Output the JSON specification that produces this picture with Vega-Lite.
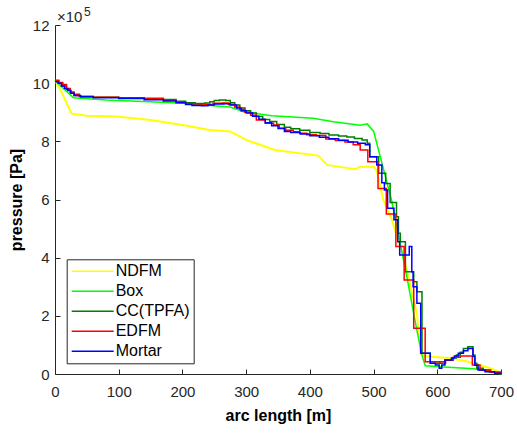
{
  "$schema": "https://vega.github.io/schema/vega-lite/v6.json",
  "width": 446,
  "height": 349,
  "autosize": {"type": "none"},
  "padding": {"left": 55, "top": 25, "right": 16, "bottom": 61},
  "background": "white",
  "config": {
    "view": {"stroke": null},
    "font": "Liberation Sans",
    "axis": {
      "grid": false,
      "domainColor": "#262626",
      "domainWidth": 1,
      "tickColor": "#262626",
      "tickWidth": 1,
      "tickSize": -5,
      "labelFlush": false,
      "labelOverlap": false,
      "labelFont": "Liberation Sans",
      "labelFontSize": 15,
      "labelColor": "#262626",
      "titleFont": "Liberation Sans",
      "titleFontSize": 16,
      "titleFontWeight": "bold",
      "titleColor": "#000000"
    },
    "axisX": {"labelPadding": 15, "titlePadding": 8},
    "axisY": {"labelPadding": 11, "titlePadding": 8},
    "legend": {
      "orient": "none",
      "legendX": 11.7,
      "legendY": 234.3,
      "strokeColor": "#262626",
      "fillColor": "white",
      "padding": 4,
      "symbolType": "M-3,0H3",
      "symbolSize": 196,
      "symbolStrokeWidth": 1.5,
      "symbolOffset": 14,
      "labelOffset": 15,
      "labelFont": "Liberation Sans",
      "labelFontSize": 16,
      "labelColor": "#000000",
      "rowPadding": 4,
      "title": null
    }
  },
  "datasets": {
    "curves": [
      {"s":"NDFM","x":0,"y":10.1},{"s":"NDFM","x":10,"y":9.7},{"s":"NDFM","x":26,"y":8.95},{"s":"NDFM","x":50,"y":8.88},{"s":"NDFM","x":97,"y":8.85},{"s":"NDFM","x":150,"y":8.73},{"s":"NDFM","x":200,"y":8.56},{"s":"NDFM","x":243,"y":8.39},{"s":"NDFM","x":275,"y":8.34},{"s":"NDFM","x":300,"y":8.05},{"s":"NDFM","x":345,"y":7.7},{"s":"NDFM","x":413,"y":7.51},{"s":"NDFM","x":427,"y":7.19},{"s":"NDFM","x":463,"y":7.07},{"s":"NDFM","x":471,"y":7.04},{"s":"NDFM","x":479,"y":7.13},{"s":"NDFM","x":500,"y":7.13},{"s":"NDFM","x":505,"y":7.0},{"s":"NDFM","x":515,"y":6.0},{"s":"NDFM","x":520,"y":5.75},{"s":"NDFM","x":528,"y":5.35},{"s":"NDFM","x":547,"y":4.03},{"s":"NDFM","x":568,"y":2.09},{"s":"NDFM","x":574,"y":0.71},{"s":"NDFM","x":578,"y":0.62},{"s":"NDFM","x":620,"y":0.54},{"s":"NDFM","x":646,"y":0.44},{"s":"NDFM","x":667,"y":0.31},{"s":"NDFM","x":683,"y":0.2},{"s":"NDFM","x":698,"y":0.06},{"s":"NDFM","x":700,"y":0.05},
      {"s":"Box","x":0,"y":10.1},{"s":"Box","x":10,"y":9.88},{"s":"Box","x":20,"y":9.68},{"s":"Box","x":29,"y":9.5},{"s":"Box","x":80,"y":9.42},{"s":"Box","x":149,"y":9.36},{"s":"Box","x":201,"y":9.31},{"s":"Box","x":259,"y":9.21},{"s":"Box","x":275,"y":9.18},{"s":"Box","x":296,"y":9.02},{"s":"Box","x":340,"y":8.88},{"s":"Box","x":405,"y":8.79},{"s":"Box","x":437,"y":8.67},{"s":"Box","x":479,"y":8.55},{"s":"Box","x":490,"y":8.6},{"s":"Box","x":500,"y":8.35},{"s":"Box","x":528,"y":6.0},{"s":"Box","x":550,"y":3.6},{"s":"Box","x":568,"y":1.5},{"s":"Box","x":576,"y":0.65},{"s":"Box","x":581,"y":0.28},{"s":"Box","x":604,"y":0.25},{"s":"Box","x":657,"y":0.18},{"s":"Box","x":683,"y":0.08},{"s":"Box","x":700,"y":0.01},
      {"s":"CC(TPFA)","x":0,"y":10.08},{"s":"CC(TPFA)","x":6,"y":10.0},{"s":"CC(TPFA)","x":12,"y":9.9},{"s":"CC(TPFA)","x":18,"y":9.78},{"s":"CC(TPFA)","x":24,"y":9.66},{"s":"CC(TPFA)","x":30,"y":9.58},{"s":"CC(TPFA)","x":40,"y":9.53},{"s":"CC(TPFA)","x":60,"y":9.52},{"s":"CC(TPFA)","x":100,"y":9.5},{"s":"CC(TPFA)","x":140,"y":9.48},{"s":"CC(TPFA)","x":170,"y":9.44},{"s":"CC(TPFA)","x":190,"y":9.38},{"s":"CC(TPFA)","x":205,"y":9.33},{"s":"CC(TPFA)","x":220,"y":9.3},{"s":"CC(TPFA)","x":235,"y":9.32},{"s":"CC(TPFA)","x":243,"y":9.36},{"s":"CC(TPFA)","x":250,"y":9.4},{"s":"CC(TPFA)","x":258,"y":9.42},{"s":"CC(TPFA)","x":268,"y":9.4},{"s":"CC(TPFA)","x":275,"y":9.33},{"s":"CC(TPFA)","x":282,"y":9.25},{"s":"CC(TPFA)","x":290,"y":9.15},{"s":"CC(TPFA)","x":298,"y":9.05},{"s":"CC(TPFA)","x":307,"y":8.97},{"s":"CC(TPFA)","x":316,"y":8.85},{"s":"CC(TPFA)","x":326,"y":8.75},{"s":"CC(TPFA)","x":337,"y":8.68},{"s":"CC(TPFA)","x":348,"y":8.58},{"s":"CC(TPFA)","x":360,"y":8.48},{"s":"CC(TPFA)","x":370,"y":8.43},{"s":"CC(TPFA)","x":384,"y":8.38},{"s":"CC(TPFA)","x":400,"y":8.3},{"s":"CC(TPFA)","x":416,"y":8.27},{"s":"CC(TPFA)","x":430,"y":8.22},{"s":"CC(TPFA)","x":445,"y":8.18},{"s":"CC(TPFA)","x":458,"y":8.15},{"s":"CC(TPFA)","x":470,"y":8.1},{"s":"CC(TPFA)","x":482,"y":8.05},{"s":"CC(TPFA)","x":490,"y":7.93},{"s":"CC(TPFA)","x":494,"y":7.47},{"s":"CC(TPFA)","x":508,"y":6.9},{"s":"CC(TPFA)","x":519,"y":6.55},{"s":"CC(TPFA)","x":526,"y":5.9},{"s":"CC(TPFA)","x":536,"y":5.41},{"s":"CC(TPFA)","x":539,"y":4.84},{"s":"CC(TPFA)","x":542,"y":4.55},{"s":"CC(TPFA)","x":550,"y":3.52},{"s":"CC(TPFA)","x":563,"y":3.17},{"s":"CC(TPFA)","x":568,"y":2.83},{"s":"CC(TPFA)","x":576,"y":0.71},{"s":"CC(TPFA)","x":589,"y":0.37},{"s":"CC(TPFA)","x":604,"y":0.42},{"s":"CC(TPFA)","x":612,"y":0.48},{"s":"CC(TPFA)","x":622,"y":0.55},{"s":"CC(TPFA)","x":630,"y":0.65},{"s":"CC(TPFA)","x":636,"y":0.75},{"s":"CC(TPFA)","x":641,"y":0.88},{"s":"CC(TPFA)","x":648,"y":0.94},{"s":"CC(TPFA)","x":656,"y":0.65},{"s":"CC(TPFA)","x":659,"y":0.37},{"s":"CC(TPFA)","x":662,"y":0.2},{"s":"CC(TPFA)","x":672,"y":0.14},{"s":"CC(TPFA)","x":683,"y":0.06},{"s":"CC(TPFA)","x":700,"y":0.03},
      {"s":"EDFM","x":0,"y":10.1},{"s":"EDFM","x":6,"y":10.02},{"s":"EDFM","x":12,"y":9.95},{"s":"EDFM","x":18,"y":9.82},{"s":"EDFM","x":24,"y":9.7},{"s":"EDFM","x":30,"y":9.62},{"s":"EDFM","x":38,"y":9.55},{"s":"EDFM","x":60,"y":9.52},{"s":"EDFM","x":100,"y":9.49},{"s":"EDFM","x":140,"y":9.46},{"s":"EDFM","x":170,"y":9.41},{"s":"EDFM","x":190,"y":9.35},{"s":"EDFM","x":205,"y":9.29},{"s":"EDFM","x":218,"y":9.25},{"s":"EDFM","x":235,"y":9.27},{"s":"EDFM","x":248,"y":9.31},{"s":"EDFM","x":262,"y":9.32},{"s":"EDFM","x":272,"y":9.27},{"s":"EDFM","x":282,"y":9.18},{"s":"EDFM","x":290,"y":9.1},{"s":"EDFM","x":298,"y":9.0},{"s":"EDFM","x":307,"y":8.9},{"s":"EDFM","x":316,"y":8.73},{"s":"EDFM","x":330,"y":8.62},{"s":"EDFM","x":343,"y":8.56},{"s":"EDFM","x":352,"y":8.45},{"s":"EDFM","x":362,"y":8.38},{"s":"EDFM","x":374,"y":8.33},{"s":"EDFM","x":384,"y":8.28},{"s":"EDFM","x":395,"y":8.23},{"s":"EDFM","x":410,"y":8.2},{"s":"EDFM","x":425,"y":8.08},{"s":"EDFM","x":440,"y":8.03},{"s":"EDFM","x":455,"y":7.98},{"s":"EDFM","x":468,"y":7.88},{"s":"EDFM","x":479,"y":7.7},{"s":"EDFM","x":491,"y":7.3},{"s":"EDFM","x":507,"y":6.38},{"s":"EDFM","x":520,"y":5.5},{"s":"EDFM","x":535,"y":4.38},{"s":"EDFM","x":548,"y":3.23},{"s":"EDFM","x":563,"y":1.57},{"s":"EDFM","x":581,"y":0.42},{"s":"EDFM","x":604,"y":0.37},{"s":"EDFM","x":613,"y":0.47},{"s":"EDFM","x":625,"y":0.58},{"s":"EDFM","x":636,"y":0.62},{"s":"EDFM","x":655,"y":0.31},{"s":"EDFM","x":667,"y":0.14},{"s":"EDFM","x":684,"y":0.06},{"s":"EDFM","x":700,"y":0.04},
      {"s":"Mortar","x":0,"y":10.05},{"s":"Mortar","x":5,"y":10.0},{"s":"Mortar","x":10,"y":9.9},{"s":"Mortar","x":15,"y":9.82},{"s":"Mortar","x":20,"y":9.75},{"s":"Mortar","x":25,"y":9.65},{"s":"Mortar","x":30,"y":9.58},{"s":"Mortar","x":40,"y":9.53},{"s":"Mortar","x":60,"y":9.5},{"s":"Mortar","x":100,"y":9.47},{"s":"Mortar","x":140,"y":9.43},{"s":"Mortar","x":170,"y":9.39},{"s":"Mortar","x":190,"y":9.33},{"s":"Mortar","x":205,"y":9.27},{"s":"Mortar","x":215,"y":9.23},{"s":"Mortar","x":230,"y":9.22},{"s":"Mortar","x":240,"y":9.25},{"s":"Mortar","x":250,"y":9.28},{"s":"Mortar","x":265,"y":9.29},{"s":"Mortar","x":275,"y":9.25},{"s":"Mortar","x":285,"y":9.15},{"s":"Mortar","x":292,"y":9.05},{"s":"Mortar","x":300,"y":8.97},{"s":"Mortar","x":310,"y":8.86},{"s":"Mortar","x":320,"y":8.76},{"s":"Mortar","x":330,"y":8.64},{"s":"Mortar","x":340,"y":8.54},{"s":"Mortar","x":350,"y":8.44},{"s":"Mortar","x":360,"y":8.34},{"s":"Mortar","x":370,"y":8.3},{"s":"Mortar","x":385,"y":8.25},{"s":"Mortar","x":400,"y":8.19},{"s":"Mortar","x":415,"y":8.14},{"s":"Mortar","x":430,"y":8.09},{"s":"Mortar","x":445,"y":8.04},{"s":"Mortar","x":460,"y":7.98},{"s":"Mortar","x":475,"y":7.93},{"s":"Mortar","x":487,"y":7.88},{"s":"Mortar","x":494,"y":7.47},{"s":"Mortar","x":505,"y":7.19},{"s":"Mortar","x":513,"y":6.58},{"s":"Mortar","x":517,"y":6.33},{"s":"Mortar","x":522,"y":5.7},{"s":"Mortar","x":532,"y":5.3},{"s":"Mortar","x":538,"y":4.55},{"s":"Mortar","x":541,"y":4.09},{"s":"Mortar","x":556,"y":4.38},{"s":"Mortar","x":560,"y":3.52},{"s":"Mortar","x":562,"y":3.0},{"s":"Mortar","x":568,"y":2.43},{"s":"Mortar","x":574,"y":0.71},{"s":"Mortar","x":589,"y":0.37},{"s":"Mortar","x":597,"y":0.31},{"s":"Mortar","x":603,"y":0.2},{"s":"Mortar","x":607,"y":0.31},{"s":"Mortar","x":612,"y":0.48},{"s":"Mortar","x":623,"y":0.55},{"s":"Mortar","x":627,"y":0.62},{"s":"Mortar","x":633,"y":0.71},{"s":"Mortar","x":641,"y":0.8},{"s":"Mortar","x":648,"y":0.88},{"s":"Mortar","x":656,"y":0.6},{"s":"Mortar","x":659,"y":0.3},{"s":"Mortar","x":664,"y":0.14},{"s":"Mortar","x":675,"y":0.08},{"s":"Mortar","x":690,"y":0.03},{"s":"Mortar","x":700,"y":0.02}
    ]
  },
  "layer": [
    {
      "data": {"name": "curves"},
      "transform": [{"filter": "datum.s === 'NDFM'"}],
      "mark": {"type": "line", "strokeWidth": 2},
      "encoding": {
        "x": {"field": "x", "type": "quantitative", "scale": {"domain": [0, 700], "nice": false, "zero": false}, "axis": {"values": [0, 100, 200, 300, 400, 500, 600, 700], "title": "arc length [m]"}},
        "y": {"field": "y", "type": "quantitative", "scale": {"domain": [0, 12], "nice": false}, "axis": {"values": [0, 2, 4, 6, 8, 10, 12], "title": "pressure [Pa]"}},
        "color": {"field": "s", "type": "nominal", "scale": {"domain": ["NDFM", "Box", "CC(TPFA)", "EDFM", "Mortar"], "range": ["#ffff00", "#00ff00", "#008000", "#ff0000", "#0000ff"]}},
        "order": {"value": null}
      }
    },
    {
      "data": {"name": "curves"},
      "transform": [{"filter": "datum.s === 'Box'"}],
      "mark": {"type": "line", "strokeWidth": 1.5},
      "encoding": {
        "x": {"field": "x", "type": "quantitative"},
        "y": {"field": "y", "type": "quantitative"},
        "color": {"field": "s", "type": "nominal"},
        "order": {"value": null}
      }
    },
    {
      "data": {"name": "curves"},
      "transform": [{"filter": "datum.s === 'CC(TPFA)' || datum.s === 'EDFM' || datum.s === 'Mortar'"}],
      "mark": {"type": "line", "strokeWidth": 1.5, "interpolate": "step-after"},
      "encoding": {
        "x": {"field": "x", "type": "quantitative"},
        "y": {"field": "y", "type": "quantitative"},
        "color": {"field": "s", "type": "nominal"},
        "order": {"value": null}
      }
    },
    {
      "data": {"values": [{"x": 0, "y": 12, "t": "×10"}]},
      "mark": {"type": "text", "align": "left", "baseline": "alphabetic", "dx": 2, "dy": -2.7, "fontSize": 15, "color": "#262626", "font": "Liberation Sans"},
      "encoding": {
        "x": {"field": "x", "type": "quantitative"},
        "y": {"field": "y", "type": "quantitative"},
        "text": {"field": "t"}
      }
    },
    {
      "data": {"values": [{"x": 0, "y": 12, "t": "5"}]},
      "mark": {"type": "text", "align": "left", "baseline": "alphabetic", "dx": 29, "dy": -9.3, "fontSize": 12, "color": "#262626", "font": "Liberation Sans"},
      "encoding": {
        "x": {"field": "x", "type": "quantitative"},
        "y": {"field": "y", "type": "quantitative"},
        "text": {"field": "t"}
      }
    }
  ]
}
